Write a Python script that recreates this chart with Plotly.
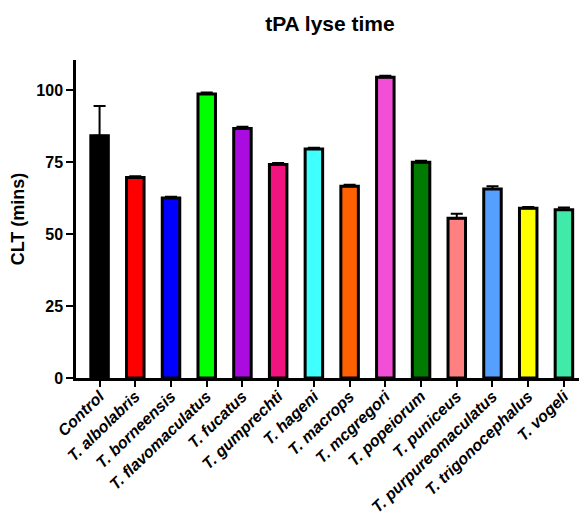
import plotly.graph_objects as go

categories = ["Control", "T. albolabris", "T. borneensis", "T. flavomaculatus", "T. fucatus",
              "T. gumprechti", "T. hageni", "T. macrops", "T. mcgregori", "T. popeiorum",
              "T. puniceus", "T. purpureomaculatus", "T. trigonocephalus", "T. vogeli"]
values = [84.1, 69.6, 62.5, 98.6, 86.6, 74.1, 79.5, 66.6, 104.4, 74.9, 55.5, 65.6, 58.9, 58.4]
errors = [10.3, 0.4, 0.4, 0.5, 0.6, 0.5, 0.4, 0.5, 0.5, 0.5, 1.5, 1.0, 0.5, 0.8]
colors = ["#000000", "#FF0000", "#0000FF", "#00FF00", "#AA0CDF", "#F2147E", "#40FFFF",
          "#FF6000", "#F24FD6", "#007A00", "#FF8080", "#55A0FF", "#FFFF00", "#40EAA8"]
yticks = [0, 25, 50, 75, 100]

x_idx = list(range(len(categories)))

fig = go.Figure(go.Bar(
    x=x_idx, y=values,
    marker=dict(color=colors, line=dict(color="black", width=3)),
    width=0.49,
    error_y=dict(type="data", symmetric=False, array=errors, arrayminus=[0] * len(errors),
                 color="black", thickness=2, width=6),
))

# page body has an 8px margin, so the figure is sized to fit the 587x521 window
fig.update_layout(
    width=579, height=513,
    margin=dict(l=68, r=2, t=52, b=143),
    paper_bgcolor="white", plot_bgcolor="white",
    showlegend=False,
    font=dict(family="Liberation Sans, Arial, sans-serif", color="black"),
    title=dict(text="<b>tPA lyse time</b>", x=0.556, xanchor="center", y=0.969, yanchor="middle",
               font=dict(size=21, color="black")),
)
fig.update_xaxes(
    range=[-0.66, 13.59], automargin=False,
    tickmode="array", tickvals=x_idx,
    ticktext=["<b><i>%s</i></b>" % c for c in categories],
    tickangle=-44, tickfont=dict(size=16, color="black"),
    ticklabelstandoff=-6,
    showline=True, linecolor="black", linewidth=2.5,
    ticks="outside", ticklen=6, tickwidth=2, tickcolor="black",
    showgrid=False, zeroline=False,
)
fig.update_yaxes(
    range=[0, 110.4], automargin=False,
    tickmode="array", tickvals=yticks, ticktext=["<b>%d</b>" % t for t in yticks],
    tickfont=dict(size=16, color="black"),
    title=dict(text="<b>CLT (mins)</b>", font=dict(size=18, color="black"), standoff=12),
    showline=True, linecolor="black", linewidth=2.5,
    ticks="outside", ticklen=7, tickwidth=2, tickcolor="black",
    showgrid=False, zeroline=False,
)

fig.write_html("out.html")
